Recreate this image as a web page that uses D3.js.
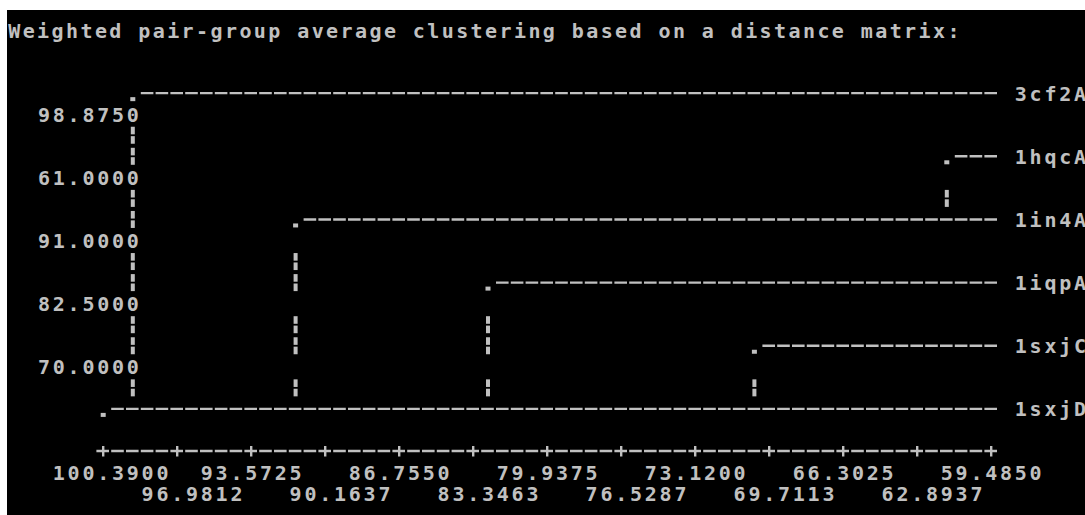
<!DOCTYPE html>
<html>
<head>
<meta charset="utf-8">
<script src="https://cdn.jsdelivr.net/npm/d3@7"></script>
<style>
  html, body { margin: 0; padding: 0; background: #ffffff; }
  svg { display: block; }
  text { font-family: "DejaVu Sans Mono", "Liberation Mono", monospace; font-weight: bold; font-size: 20px; fill: #c0c0c0; white-space: pre; }
</style>
</head>
<body>
<svg id="chart" width="1085" height="515"></svg>
<script>
// ---- data ----
const title = "Weighted pair-group average clustering based on a distance matrix:";
const leaves = ["3cf2A", "1hqcA", "1in4A", "1iqpA", "1sxjC", "1sxjD"];
// merge level printed between leaf i and leaf i+1
const levels = [98.875, 61.0, 91.0, 82.5, 70.0];
const xTicks = [100.39, 96.9812, 93.5725, 90.1637, 86.755, 83.3463, 79.9375,
                76.5287, 73.12, 69.7113, 66.3025, 62.8937, 59.485];
const fmt = d3.format(".4f");

// ---- character grid (console-style layout) ----
const CW = 14.8, RH = 21.05, X0 = 7, Y0 = 30, TITLE_CW = 14.45;
const AXIS_COL0 = 6, AXIS_COLS = 60, LEAF_LABEL_COL = 68, LEVEL_END_COL = 8;
const colX = d3.scaleLinear().domain([0, 1]).range([X0, X0 + CW]);   // left edge of a column
const rowY = d3.scaleLinear().domain([0, 1]).range([Y0, Y0 + RH]);   // centre of a row
const x = d3.scaleLinear()
  .domain([xTicks[0], xTicks[xTicks.length - 1]])
  .range([AXIS_COL0, AXIS_COL0 + AXIS_COLS]);
const col = v => Math.floor(x(v) + 0.01);
const leafRow = i => 3 + 3 * i;
const FG = "#c0c0c0";

const svg = d3.select("#chart");
svg.append("rect").attr("x", X0).attr("y", 10).attr("width", 1085 - X0).attr("height", 515 - 10).attr("fill", "#000");

function putText(str, c, r, pitch) {
  const px = pitch ? (k => X0 + k * pitch) : colX;
  svg.append("text")
    .attr("text-anchor", "middle")
    .attr("x", Array.from(str, (_, i) => px(c + i + 0.5).toFixed(2)).join(" "))
    .attr("y", rowY(r) + 7.5)
    .text(str);
}
function dashes(c0, c1, r) { // "-" characters on columns c0..c1-1
  svg.append("line")
    .attr("x1", colX(c0) + 0.6).attr("x2", colX(c1))
    .attr("y1", rowY(r)).attr("y2", rowY(r))
    .attr("stroke", FG).attr("stroke-width", 2.4)
    .attr("stroke-dasharray", "12.6 2.2");
}
function brokenBar(c, r) {
  const cx = colX(c + 0.5), cy = rowY(r);
  [[cy - 8.5, 7.6], [cy + 0.9, 7.6]].forEach(([y, h]) =>
    svg.append("rect").attr("x", cx - 2).attr("y", y).attr("width", 4).attr("height", h).attr("fill", FG));
}

putText(title, 0, 0, TITLE_CW);

// ---- tree ----
const n = leaves.length;
const startCol = leaves.map((_, i) => i < n - 1 ? col(levels[i]) : col(xTicks[0]));

leaves.forEach((name, i) => {
  const r = leafRow(i), c = startCol[i];
  svg.append("rect").attr("x", colX(c + 0.5) - 2.5).attr("y", rowY(r) + 4)
    .attr("width", 5).attr("height", 4).attr("fill", FG);
  dashes(c + 1, AXIS_COL0 + AXIS_COLS + 1, r);
  putText(name, LEAF_LABEL_COL, r);
});

// vertical connectors: from leaf i down to the last leaf of the cluster below it
levels.forEach((lv, i) => {
  let j = i + 1;
  while (j < n - 1 && levels[j] < lv) j++;
  const c = startCol[i];
  for (let r = leafRow(i) + 1; r < leafRow(j); r++) {
    if ((r - 3) % 3 === 1) continue;                    // level-label rows
    if ((r - 3) % 3 === 0 && startCol[(r - 3) / 3] <= c) continue;
    brokenBar(c, r);
  }
});

// level labels, right-aligned in the left gutter
levels.forEach((lv, i) => {
  const s = fmt(lv);
  putText(s, LEVEL_END_COL + 1 - s.length, leafRow(i) + 1);
});

// ---- axis ----
const AXIS_ROW = 20;
dashes(AXIS_COL0, AXIS_COL0 + AXIS_COLS + 1, AXIS_ROW);
xTicks.forEach((t, i) => {
  const c = col(t);
  svg.append("rect").attr("x", colX(c + 0.5) - 1.2).attr("y", rowY(AXIS_ROW) - 5)
    .attr("width", 2.4).attr("height", 10.5).attr("fill", FG);
  const s = fmt(t);
  if (i % 2 === 0) putText(s, c - 3, AXIS_ROW + 1);
  else putText(s, c - 2, AXIS_ROW + 2);
});
</script>
</body>
</html>
